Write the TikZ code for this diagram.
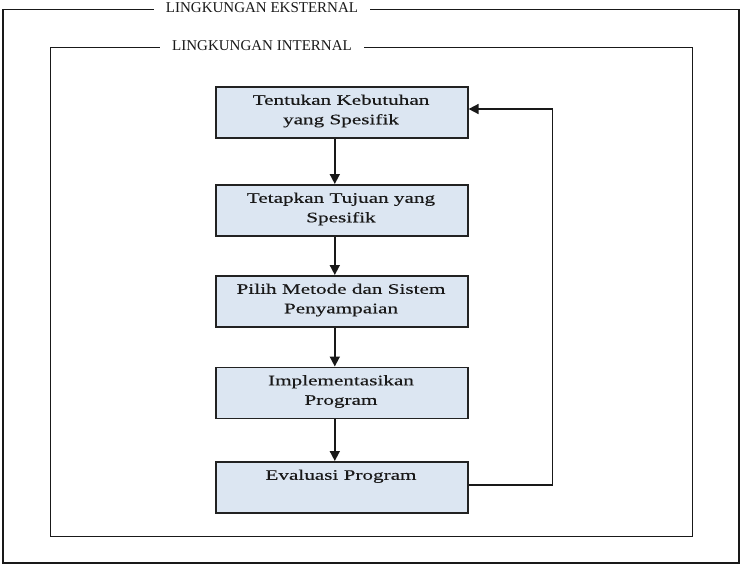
\documentclass[tikz,border=0pt]{standalone}
\usepackage{fontspec}
\setmainfont{Liberation Serif}
\newfontfamily\boxfont[FakeStretch=1.46,FakeBold=0.3]{Liberation Serif}
\usetikzlibrary{arrows.meta}
\definecolor{boxfill}{HTML}{DCE6F2}
\definecolor{boxline}{HTML}{222222}
\begin{document}
\begin{tikzpicture}[x=1pt,y=-1pt,
  frame/.style={draw=black!90,line width=1.7pt},
  framelabel/.style={fill=white,inner xsep=12pt,inner ysep=2pt,font=\fontsize{15}{16}\selectfont,text=black!90},
  stepbox/.style={draw=boxline,fill=boxfill,line width=1.6pt,minimum width=252pt,minimum height=51pt,anchor=north west},
  steptext/.style={anchor=north,align=center,font=\boxfont\fontsize{14.5}{19.5}\selectfont,text=black!90,inner sep=0pt},
  flow/.style={line width=1.6pt,draw=black!90,-{Triangle[width=10pt,length=10pt]}}]
\useasboundingbox (0,0) rectangle (741,566);
% outer and inner frames
\draw[frame] (3,9.5) rectangle (739,563);
\node[framelabel] (ext) at (262,8) {LINGKUNGAN EKSTERNAL};
\draw[frame] (50.5,47.5) rectangle (692.5,536.5);
\node[framelabel] (int) at (262,46) {LINGKUNGAN INTERNAL};
% process steps
\node[stepbox] (s1) at (215,86) {};
\node[stepbox] (s2) at (215,184) {};
\node[stepbox] (s3) at (215,275) {};
\node[stepbox] (s4) at (215,366.5) {};
\node[stepbox] (s5) at (215,461) {};
\node[steptext] (t1) at (341,94.5) {Tentukan Kebutuhan\\yang Spesifik};
\node[steptext] (t2) at (341,192.5) {Tetapkan Tujuan yang\\Spesifik};
\node[steptext] (t3) at (341,283.5) {Pilih Metode dan Sistem\\Penyampaian};
\node[steptext] (t4) at (341,375) {Implementasikan\\Program};
\node[steptext] (t5) at (341,469.5) {Evaluasi Program};
% downward flow
\foreach \a/\b in {s1/s2,s2/s3,s3/s4,s4/s5}
  \draw[flow] ([xshift=-7pt]\a.south) -- ([xshift=-7pt]\b.north);
% feedback loop
\coordinate (fb1) at (552.5,485);
\coordinate (fb2) at (552.5,109);
\draw[flow] (s5.east |- fb1) -- (fb1) -- (fb2) -- (s1.east |- fb2);
\end{tikzpicture}
\end{document}
